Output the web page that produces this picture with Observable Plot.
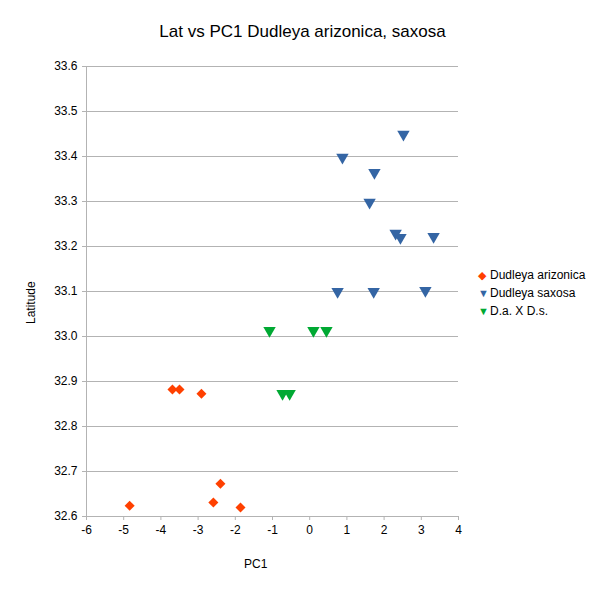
<!DOCTYPE html>
<html><head><meta charset="utf-8">
<script src="https://cdn.jsdelivr.net/npm/d3@7"></script>
<script src="https://cdn.jsdelivr.net/npm/@observablehq/plot@0.6"></script>
<style>body{margin:0;font-family:"Liberation Sans",Arial,sans-serif;background:#fff}
#wrap{position:relative;width:605px;height:590px}
.t{position:absolute;font-size:12px;color:#000}
</style></head><body><div id="wrap"></div>
<script>
const seriesNames=["Dudleya arizonica","Dudleya saxosa","D.a. X D.s."];
const colors=["#ff4000","#3465a4","#00a933"];
const arizX=[-4.84,-3.69,-3.50,-2.91,-2.40,-2.59,-1.86];
const arizY=[32.624,32.882,32.882,32.873,32.673,32.631,32.620];
const saxX=[0.88,2.52,1.74,1.61,2.31,2.44,3.33,0.75,1.72,3.11];
const saxY=[33.398,33.449,33.364,33.298,33.229,33.220,33.222,33.100,33.100,33.102];
const hybX=[-1.08,0.10,0.45,-0.73,-0.54];
const hybY=[33.013,33.013,33.013,32.873,32.873];
const xTicks=[-6,-5,-4,-3,-2,-1,0,1,2,3,4];
const yTicks=[32.6,32.7,32.8,32.9,33.0,33.1,33.2,33.3,33.4,33.5,33.6];
const mk=(xs,ys,s)=>xs.map((x,i)=>({x,y:ys[i],s}));
const arizData=mk(arizX,arizY,seriesNames[0]);
const saxData=mk(saxX,saxY,seriesNames[1]);
const hybData=mk(hybX,hybY,seriesNames[2]);
const chart=Plot.plot({
  width:605,height:590,marginLeft:86,marginRight:147,marginTop:66,marginBottom:74,
  style:{fontFamily:"Liberation Sans, Arial, sans-serif",fontSize:"12px",color:"#000"},
  x:{domain:[-6,4],ticks:xTicks,tickFormat:d=>d<0?"-"+Math.abs(d):d,label:null,tickSize:4},
  y:{domain:[32.6,33.6],ticks:yTicks,tickFormat:d=>d.toFixed(1),label:null,tickSize:4},
  marks:[
    Plot.gridY(yTicks,{stroke:"#b3b3b3",strokeOpacity:1}),
    Plot.ruleX([-6],{stroke:"#b3b3b3"}),
    Plot.ruleY([32.6],{stroke:"#b3b3b3"}),
    Plot.axisX({ticks:xTicks,tickSize:4,stroke:"#b3b3b3",tickFormat:d=>d<0?"-"+Math.abs(d):d,label:null,fill:"#000"}),
    Plot.axisY({ticks:yTicks,tickSize:4,stroke:"#b3b3b3",tickFormat:d=>d.toFixed(1),label:null,fill:"#000"}),
    Plot.dot(arizData,{x:"x",y:"y",symbol:"square",rotate:45,r:4,fill:colors[0],stroke:null}),
    Plot.dot(saxData,{x:"x",y:"y",symbol:"triangle",rotate:180,r:4.6,fill:colors[1],stroke:null}),
    Plot.dot(hybData,{x:"x",y:"y",symbol:"triangle",rotate:180,r:4.6,fill:colors[2],stroke:null})
  ]
});
const wrap=document.getElementById("wrap");
wrap.appendChild(chart);
function add(html,css){const d=document.createElement("div");d.className="t";d.innerHTML=html;Object.assign(d.style,css);wrap.appendChild(d);}
add("Lat vs PC1 Dudleya arizonica, saxosa",{left:"0",width:"605px",textAlign:"center",top:"22px",fontSize:"17px"});
add("PC1",{left:"244px",top:"557px"});
add("Latitude",{transform:"rotate(-90deg)",transformOrigin:"0 0",left:"24px",top:"324px"});
const syms=["&#9670;","&#9660;","&#9660;"];
seriesNames.forEach((n,i)=>add(`<span style="color:${colors[i]};font-size:11px;display:inline-block;width:12px">${syms[i]}</span>${n}`,{left:"478px",top:(268+i*18)+"px"}));
</script></body></html>
